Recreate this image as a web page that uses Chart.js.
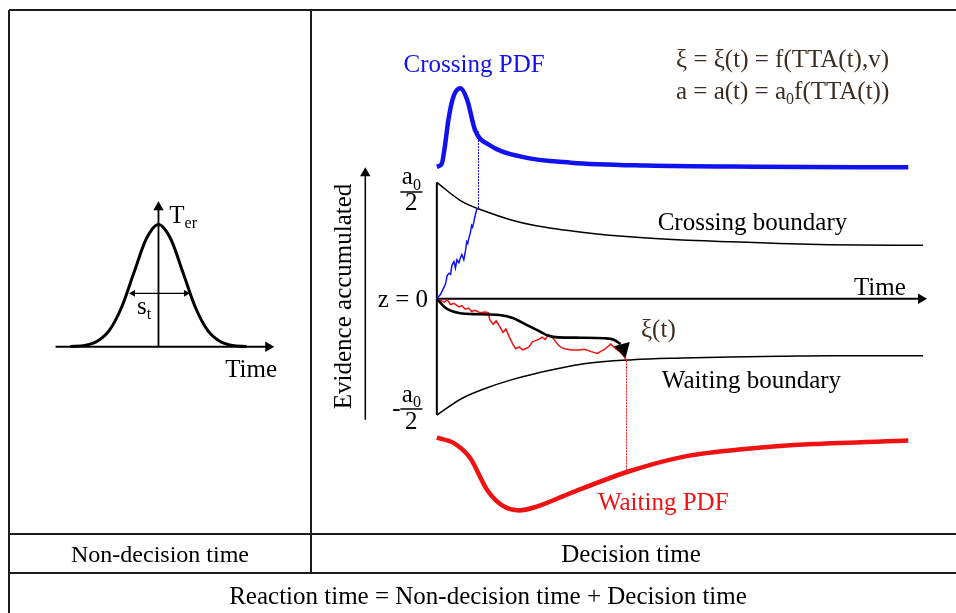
<!DOCTYPE html>
<html>
<head>
<meta charset="utf-8">
<script src="https://cdn.jsdelivr.net/npm/chart.js@4.4.1/dist/chart.umd.min.js"></script>
<style>
  body { margin: 0; background: #fff; }
  canvas { display: block; }
</style>
</head>
<body>
<canvas id="diagram" width="956" height="613"></canvas>
<script>
// ---- non-decision time panel (u in units of s_t, v = relative density) ----
const gaussU = [-3.6, -3.0, -2.5, -2.0, -1.5, -1.0, -0.5, 0, 0.5, 1.0, 1.5, 2.0, 2.5, 3.0, 3.6];
const gaussV = [0.002, 0.011, 0.044, 0.135, 0.325, 0.607, 0.882, 1, 0.882, 0.607, 0.325, 0.135, 0.044, 0.011, 0.002];

// ---- decision panel (t = time, e = evidence, a0/2 = 1) ----
const boundT = [0, 0.5, 1, 1.5, 2, 3, 4, 5, 6, 7, 8, 9.92];
const upperBound = [1.0, 0.84, 0.75, 0.68, 0.63, 0.57, 0.53, 0.505, 0.49, 0.475, 0.465, 0.46];
const lowerBound = [-1.0, -0.86, -0.77, -0.70, -0.645, -0.56, -0.525, -0.51, -0.50, -0.495, -0.49, -0.49];

const crossT = [0, 0.1, 0.16, 0.24, 0.34, 0.48, 0.62, 0.78, 1.08, 1.74, 2.74, 4.28, 6.5, 9.62];
const crossPdf = [1.135, 1.16, 1.30, 1.55, 1.74, 1.81, 1.71, 1.45, 1.32, 1.22, 1.17, 1.145, 1.135, 1.13];

const waitT = [0, 0.34, 0.68, 1.02, 1.34, 1.68, 2.02, 2.68, 3.88, 5.02, 6.34, 7.68, 9.62];
const waitPdf = [-1.195, -1.24, -1.37, -1.64, -1.78, -1.82, -1.79, -1.68, -1.49, -1.36, -1.29, -1.25, -1.22];

const xiT = [0, 0.15, 0.28, 0.48, 0.75, 1.01, 1.28, 1.55, 1.81, 2.08, 2.28, 2.48, 2.95, 3.41, 3.61, 3.75];
const xiE = [0, -0.068, -0.102, -0.124, -0.132, -0.135, -0.14, -0.165, -0.22, -0.277, -0.318, -0.332, -0.335, -0.34, -0.352, -0.39];

const blueWalk = [[0, 0], [0.08, 0.04], [0.13, 0.085], [0.18, 0.13], [0.21, 0.2], [0.25, 0.22], [0.28, 0.21],
  [0.31, 0.29], [0.35, 0.32], [0.38, 0.265], [0.41, 0.335], [0.45, 0.31], [0.48, 0.35], [0.51, 0.38],
  [0.55, 0.335], [0.58, 0.4], [0.61, 0.49], [0.63, 0.475], [0.65, 0.515], [0.68, 0.56], [0.71, 0.63],
  [0.73, 0.615], [0.75, 0.65], [0.78, 0.71], [0.81, 0.765], [0.85, 0.78]];

const redWalk = [[0, 0], [0.15, -0.03], [0.21, -0.01], [0.28, -0.05], [0.35, -0.04], [0.45, -0.07], [0.51, -0.06],
  [0.58, -0.09], [0.65, -0.08], [0.71, -0.11], [0.78, -0.1], [0.88, -0.12], [0.98, -0.115], [1.05, -0.12],
  [1.08, -0.18], [1.15, -0.22], [1.21, -0.19], [1.28, -0.235], [1.35, -0.29], [1.41, -0.26], [1.48, -0.33],
  [1.55, -0.39], [1.61, -0.43], [1.68, -0.415], [1.75, -0.44], [1.81, -0.43], [1.88, -0.415], [1.95, -0.37],
  [2.01, -0.36], [2.08, -0.35], [2.15, -0.33], [2.21, -0.35], [2.28, -0.31], [2.35, -0.33], [2.41, -0.36],
  [2.48, -0.4], [2.55, -0.42], [2.61, -0.43], [2.75, -0.44], [2.88, -0.44], [3.01, -0.435], [3.15, -0.455],
  [3.28, -0.47], [3.35, -0.45], [3.41, -0.44], [3.48, -0.415], [3.55, -0.39], [3.61, -0.415], [3.68, -0.44],
  [3.75, -0.46], [3.81, -0.49], [3.87, -0.53]];

const crossHit = 0.85;   // time the blue walk hits the crossing boundary
const waitHit = 3.87;    // time the red walk hits the waiting boundary

const SERIF = '"Liberation Serif", "Times New Roman", serif';
const BLUE = '#1212f0';
const RED = '#f01212';
const BROWN = '#3a2d22';

function zip(xs, ys) { return xs.map((x, i) => ({ x, y: ys[i] })); }
function pts(pairs) { return pairs.map(([x, y]) => ({ x, y })); }

const R = { xAxisID: 'x', yAxisID: 'y' };
const L = { xAxisID: 'xl', yAxisID: 'yl' };

function curve(data, color, width, axes, extra) {
  return Object.assign({ data, showLine: true, borderColor: color, borderWidth: width,
    pointRadius: 0, fill: false }, axes, extra || {});
}
function heads(data, radius, rotation, axes) {
  return Object.assign({ data, showLine: false, pointStyle: 'triangle', pointRadius: radius,
    pointRotation: rotation, pointBackgroundColor: '#000', pointBorderWidth: 0 }, axes);
}

const smooth = { cubicInterpolationMode: 'monotone' };

const datasets = [
  // decision panel
  heads(pts([[9.88, 0], [-1.46, 1.08], [3.80, -0.43]]), [6, 6, 9.5], [90, 0, 165], R),
  curve(zip(xiT, xiE), '#000', 2.6, R, smooth),
  curve(pts(blueWalk), BLUE, 1.5, R),
  curve(pts(redWalk), RED, 1.5, R),
  curve(pts([[crossHit, 0.78], [crossHit, 1.44]]), BLUE, 1, R, { borderDash: [2, 1] }),
  curve(pts([[waitHit, -0.53], [waitHit, -1.49]]), RED, 1, R, { borderDash: [2, 1] }),
  curve(zip(crossT, crossPdf), BLUE, 4.5, R, smooth),
  curve(zip(waitT, waitPdf), RED, 4.5, R, smooth),
  curve(zip(boundT, upperBound), '#000', 1.5, R, smooth),
  curve(zip(boundT, lowerBound), '#000', 1.5, R, smooth),
  curve(pts([[0, 0], [9.9, 0]]), '#000', 2, R),
  curve(pts([[0, -1.0], [0, 1.0]]), '#000', 2, R),
  curve(pts([[-1.46, -1.04], [-1.46, 1.08]]), '#000', 1.5, R),
  // non-decision panel
  heads(pts([[4.48, 0], [0, 1.142], [-1.04, 0.437], [1.12, 0.437]]), [6, 6, 4, 4], [90, 0, 270, 90], L),
  curve(zip(gaussU, gaussV), '#000', 3, L, smooth),
  curve(pts([[-4.2, 0], [4.5, 0]]), '#000', 2, L),
  curve(pts([[0, 0], [0, 1.15]]), '#000', 1.8, L),
  curve(pts([[-1.1, 0.437], [1.18, 0.437]]), '#000', 1.2, L)
];

// text labels, anchored in data units; parts: [text, isSubscript]
const labelsR = [
  { t: 0.76, e: 1.946, parts: [['Crossing PDF']], color: BLUE, align: 'center' },
  { t: 4.88, e: 1.99, parts: [['\u03be = \u03be(t) = f(TTA(t),v)']], color: BROWN, align: 'left' },
  { t: 4.88, e: 1.72, parts: [['a = a(t) = a'], ['0', 1], ['f(TTA(t))']], color: BROWN, align: 'left' },
  { t: 6.44, e: 0.588, parts: [['Crossing boundary']], color: '#000', align: 'center' },
  { t: 9.04, e: 0.029, parts: [['Time']], color: '#000', align: 'center' },
  { t: -0.18, e: -0.07, parts: [['z = 0']], color: '#000', align: 'right' },
  { t: 4.52, e: -0.33, parts: [['\u03be(t)']], color: BROWN, align: 'center' },
  { t: 6.42, e: -0.77, parts: [['Waiting boundary']], color: '#000', align: 'center' },
  { t: 4.62, e: -1.82, parts: [['Waiting PDF']], color: RED, align: 'center' }
];
const labelsL = [
  { t: 0.44, e: 1.016, parts: [['T'], ['er', 1]], color: '#000', align: 'left' },
  { t: -0.88, e: 0.27, parts: [['s'], ['t', 1]], color: '#000', align: 'left' },
  { t: 2.72, e: -0.246, parts: [['Time']], color: '#000', align: 'left' }
];

function drawRich(ctx, parts, x, y, size, color, align) {
  const fontFor = p => (p[1] ? Math.round(size * 0.62) : size) + 'px ' + SERIF;
  let w = 0;
  parts.forEach(p => { ctx.font = fontFor(p); w += ctx.measureText(p[0]).width; });
  let cx = align === 'center' ? x - w / 2 : align === 'right' ? x - w : x;
  ctx.fillStyle = color;
  ctx.textAlign = 'left';
  ctx.textBaseline = 'alphabetic';
  parts.forEach(p => {
    ctx.font = fontFor(p);
    ctx.fillText(p[0], cx, y + (p[1] ? size * 0.22 : 0));
    cx += ctx.measureText(p[0]).width;
  });
}

function drawFraction(ctx, x, yTop, yBar, yBot, minus) {
  drawRich(ctx, [['a'], ['0', 1]], x, yTop, 25, '#000', 'center');
  ctx.strokeStyle = '#000';
  ctx.lineWidth = 1.5;
  ctx.beginPath();
  ctx.moveTo(x - 11, yBar);
  ctx.lineTo(x + 11, yBar);
  ctx.stroke();
  drawRich(ctx, [['2']], x, yBot, 25, '#000', 'center');
  if (minus) drawRich(ctx, [['-']], x - 15, yBar + 7, 25, '#000', 'center');
}

const extras = {
  id: 'extras',
  beforeDatasetsDraw(chart) {
    const ctx = chart.ctx;
    ctx.save();
    ctx.strokeStyle = '#1c1c1c';
    ctx.lineWidth = 2;
    const rules = [[9, 10, 956, 10], [9, 10, 9, 613], [311, 10, 311, 573], [9, 534, 956, 534], [9, 573, 956, 573]];
    rules.forEach(([x1, y1, x2, y2]) => {
      ctx.beginPath();
      ctx.moveTo(x1, y1);
      ctx.lineTo(x2, y2);
      ctx.stroke();
    });
    drawRich(ctx, [['Non-decision time']], 160, 562, 24, '#000', 'center');
    drawRich(ctx, [['Decision time']], 631, 562, 25, '#000', 'center');
    drawRich(ctx, [['Reaction time = Non-decision time + Decision time']], 488, 604, 25, '#000', 'center');
    ctx.restore();
  },
  afterDatasetsDraw(chart) {
    const ctx = chart.ctx;
    const s = chart.scales;
    ctx.save();
    labelsR.forEach(l => drawRich(ctx, l.parts, s.x.getPixelForValue(l.t), s.y.getPixelForValue(l.e), 25, l.color, l.align));
    labelsL.forEach(l => drawRich(ctx, l.parts, s.xl.getPixelForValue(l.t), s.yl.getPixelForValue(l.e), 25, l.color, l.align));

    const fx = s.x.getPixelForValue(-0.52);
    drawFraction(ctx, fx, s.y.getPixelForValue(0.985), s.y.getPixelForValue(0.918), s.y.getPixelForValue(0.7625), false);
    drawFraction(ctx, fx, s.y.getPixelForValue(-0.8875), s.y.getPixelForValue(-0.948), s.y.getPixelForValue(-1.12), true);

    // y axis title
    ctx.translate(s.x.getPixelForValue(-1.76), s.y.getPixelForValue(0.02));
    ctx.rotate(-Math.PI / 2);
    drawRich(ctx, [['Evidence accumulated']], 0, 0, 25, '#000', 'center');
    ctx.restore();
  }
};

new Chart(document.getElementById('diagram'), {
  type: 'scatter',
  data: { datasets },
  options: {
    responsive: false,
    animation: false,
    devicePixelRatio: 1,
    events: [],
    layout: { padding: 0 },
    plugins: { legend: { display: false }, tooltip: { enabled: false } },
    scales: {
      x: { type: 'linear', min: -8.72, max: 10.4, display: false },
      y: { type: 'linear', min: -2.62083, max: 2.4875, display: false },
      xl: { type: 'linear', position: 'bottom', min: -6.08, max: 32.16, display: false },
      yl: { type: 'linear', position: 'left', min: -2.1032, max: 2.7619, display: false }
    }
  },
  plugins: [extras]
});
</script>
</body>
</html>
